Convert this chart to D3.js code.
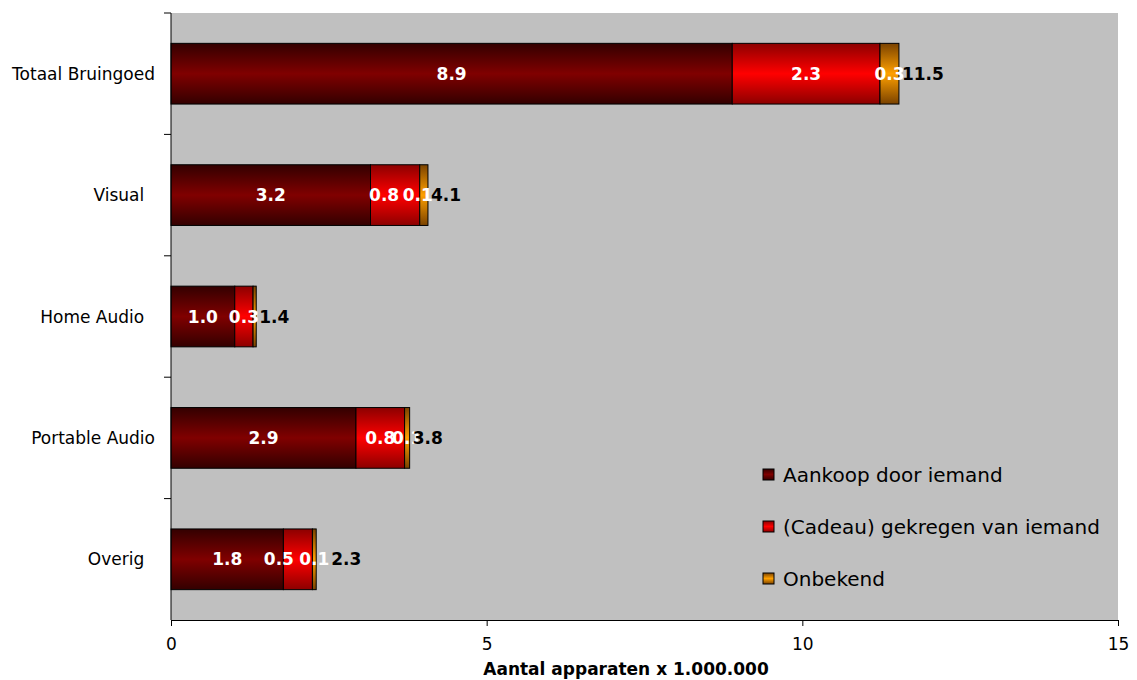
<!DOCTYPE html>
<html><head><meta charset="utf-8">
<script src="https://cdn.jsdelivr.net/npm/d3@7"></script>
<style>
body{margin:0;background:#fff;}
text{font-family:"DejaVu Sans",Verdana,sans-serif;}
</style></head>
<body><svg id="c" width="1137" height="680"></svg>
<script>
const categories = ["Totaal Bruingoed","Visual","Home Audio","Portable Audio","Overig"];
const categoryLabels = ["Totaal Bruingoed","Visual\u00a0\u00a0","Home Audio\u00a0\u00a0","Portable Audio","Overig\u00a0\u00a0"];
const seriesNames = ["Aankoop door iemand","(Cadeau) gekregen van iemand","Onbekend"];
const aankoop = [8.89, 3.16, 1.01, 2.93, 1.78];
const cadeau  = [2.34, 0.78, 0.29, 0.77, 0.46];
const onbekend = [0.30, 0.13, 0.05, 0.08, 0.06];
const valueLabels = [["8.9","2.3","0.3"],["3.2","0.8","0.1"],["1.0","0.3",""],["2.9","0.8","0.1"],["1.8","0.5","0.1"]];
const totals = ["11.5","4.1","1.4","3.8","2.3"];
const xTicks = [0,5,10,15];
const xTitle = "Aantal apparaten x 1.000.000";

const svg = d3.select("#c");
const L=171,R=1118,T=13,B=620;
const x = d3.scaleLinear().domain([0,15]).range([L,R]);
const y = d3.scaleBand().domain(categories).range([T,B]).paddingInner(0.5).paddingOuter(0.25);

// label nudges (px) to mimic the reference's placement of crowded labels
const nudge = {"Visual|1":-11,"Visual|2":-6,"Overig|1":-19,"Overig|2":0,"Overig|total":12};

const grads = [
  {id:"g0", edge:"#330000", mid:"#800000"},
  {id:"g1", edge:"#8c0000", mid:"#ff0000"},
  {id:"g2", edge:"#7a4200", mid:"#ffa000"}
];
const defs = svg.append("defs");
grads.forEach(g=>{
  const lg = defs.append("linearGradient").attr("id",g.id).attr("x1",0).attr("y1",0).attr("x2",0).attr("y2",1);
  lg.append("stop").attr("offset","0%").attr("stop-color",g.edge);
  lg.append("stop").attr("offset","50%").attr("stop-color",g.mid);
  lg.append("stop").attr("offset","100%").attr("stop-color",g.edge);
});

svg.append("rect").attr("x",L).attr("y",T).attr("width",R-L).attr("height",B-T).attr("fill","#c0c0c0");

const series = [aankoop,cadeau,onbekend];
const rows = categories.map((c,i)=>({c, vals: series.map(s=>s[i])}));

const gBars = svg.append("g");
rows.forEach((r,i)=>{
  let acc=0;
  r.vals.forEach((v,k)=>{
    const x0=x(acc), x1=x(acc+v);
    gBars.append("rect").attr("x",x0).attr("y",y(r.c)).attr("width",x1-x0).attr("height",y.bandwidth())
      .attr("fill",`url(#g${k})`).attr("stroke","#000").attr("stroke-width",1);
    acc+=v;
  });
});
const gLab = svg.append("g");
rows.forEach((r,i)=>{
  let acc=0;
  r.vals.forEach((v,k)=>{
    const cx = x(acc+v/2) + (nudge[r.c+"|"+k]||0);
    if(valueLabels[i][k]) gLab.append("text").attr("x",cx).attr("y",y(r.c)+y.bandwidth()/2).attr("dy","0.36em")
      .attr("text-anchor","middle").attr("fill","#fff").attr("font-weight","bold").attr("font-size",17)
      .text(valueLabels[i][k]);
    acc+=v;
  });
  gLab.append("text").attr("x",x(acc)+3+(nudge[r.c+"|total"]||0)).attr("y",y(r.c)+y.bandwidth()/2).attr("dy","0.36em")
    .attr("fill","#000").attr("font-weight","bold").attr("font-size",17).text(totals[i]);
});

const gy = svg.append("g");
gy.append("line").attr("x1",L).attr("x2",L).attr("y1",T).attr("y2",B).attr("stroke","#000");
const bounds = d3.range(categories.length).map(i=>T+i*y.step());
gy.selectAll("line.t").data(bounds).join("line").attr("class","t")
  .attr("x1",L-7).attr("x2",L).attr("y1",d=>d).attr("y2",d=>d).attr("stroke","#000");
gy.selectAll("text").data(categories).join("text")
  .attr("x",155).attr("y",d=>y(d)+y.bandwidth()/2).attr("dy","0.36em").attr("text-anchor","end")
  .attr("font-size",17).style("white-space","pre").text((d,i)=>categoryLabels[i]);

const gx = svg.append("g").attr("transform",`translate(0,${B})`)
  .call(d3.axisBottom(x).tickValues(xTicks).tickSize(6).tickPadding(12).tickFormat(d3.format("d")));
gx.select(".domain").attr("stroke","#000");
gx.selectAll(".tick line").attr("stroke","#000");
gx.selectAll(".tick text").attr("font-size",17).attr("font-family","DejaVu Sans").attr("fill","#000");
svg.append("text").attr("x",626).attr("y",669).attr("dy","0.36em").attr("text-anchor","middle")
  .attr("font-weight","bold").attr("font-size",17).text(xTitle);

const lg = svg.append("g");
seriesNames.forEach((n,k)=>{
  const yy = 475 + k*52;
  lg.append("rect").attr("x",763).attr("y",yy-6).attr("width",11).attr("height",11)
    .attr("fill",`url(#g${k})`).attr("stroke","#000");
  lg.append("text").attr("x",783).attr("y",yy).attr("dy","0.36em").attr("font-size",20).text(n);
});
</script></body></html>
